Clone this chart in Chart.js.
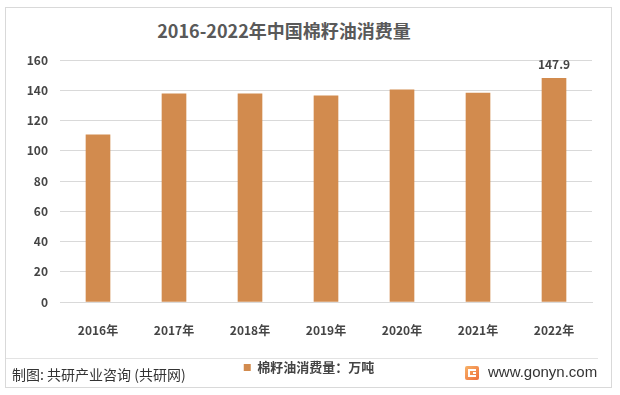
<!DOCTYPE html>
<html>
<head>
<meta charset="utf-8">
<script src="https://cdn.jsdelivr.net/npm/chart.js@4"></script>
<style>
  body { margin: 0; background: #fff; }
  #wrap { position: relative; width: 620px; height: 395px; font-family: "Noto Sans CJK SC", "Noto Sans", sans-serif; }
  #frame { position: absolute; left: 5px; top: 7px; width: 605px; height: 379px; border: 1px solid #d9d9d9; }
  #title { position: absolute; left: 84px; top: 20px; width: 400px; text-align: center; font-size: 18px; line-height: 20px; font-weight: bold; color: #595959; }
  #sep { position: absolute; left: 6px; top: 358px; width: 592px; height: 1px; background: #e3e3e3; }
  #source { position: absolute; left: 12px; top: 364px; font-size: 14px; line-height: 20px; color: #333; }
  #logo { position: absolute; left: 465px; top: 366px; width: 14px; height: 14px; border-radius: 2px; background: linear-gradient(135deg, #f7b267, #ef6f3c); }
  #logo i { position: absolute; background: #fff; }
  #site { position: absolute; left: 488px; top: 362px; font-family: "Liberation Sans", Arial, sans-serif; font-size: 15px; line-height: 20px; color: #333; }
  canvas { position: absolute; left: 0; top: 0; }
</style>
</head>
<body>
<div id="wrap">
  <div id="frame"></div>
  <div id="title">2016-2022年中国棉籽油消费量</div>
  <canvas id="chart" width="620" height="395"></canvas>
  <div id="sep"></div>
  <div id="source">制图: 共研产业咨询 (共研网)</div>
  <div id="logo"><i style="left:3px;top:3px;width:8px;height:2px"></i><i style="left:3px;top:3px;width:2px;height:8px"></i><i style="left:3px;top:9px;width:8px;height:2px"></i><i style="left:8px;top:6px;width:3px;height:2px"></i></div>
  <div id="site">www.gonyn.com</div>
</div>
<script>
const years = ["2016年", "2017年", "2018年", "2019年", "2020年", "2021年", "2022年"];
const consumption = [110.6, 137.6, 137.6, 136.3, 140.2, 138.2, 147.9];
const yTicks = [0, 20, 40, 60, 80, 100, 120, 140, 160];
const seriesName = "棉籽油消费量：万吨";
const labelledYears = ["2022年"];

const barColor = "#d28b4e";
const textColor = "#454545";
const gridColor = "#d9d9d9";

// value label above the selected bars
const valueLabels = {
  id: "valueLabels",
  afterDatasetsDraw(chart) {
    const ctx = chart.ctx;
    const meta = chart.getDatasetMeta(0);
    ctx.save();
    ctx.font = "bold 12px 'Noto Sans CJK SC', sans-serif";
    ctx.fillStyle = textColor;
    ctx.textAlign = "center";
    ctx.textBaseline = "middle";
    meta.data.forEach((bar, i) => {
      if (labelledYears.includes(years[i])) {
        ctx.fillText(consumption[i].toFixed(1), bar.x, bar.y - 14);
      }
    });
    ctx.restore();
  },
};

new Chart(document.getElementById("chart"), {
  type: "bar",
  data: {
    labels: years,
    datasets: [
      {
        label: seriesName,
        data: consumption,
        backgroundColor: barColor,
        barThickness: 24,
      },
    ],
  },
  options: {
    responsive: false,
    animation: false,
    layout: { padding: { left: 26, right: 28, top: 60, bottom: 11 } },
    plugins: {
      title: { display: false },
      tooltip: { enabled: false },
      legend: {
        position: "bottom",
        labels: {
          boxWidth: 7,
          boxHeight: 7,
          padding: 10,
          color: textColor,
          font: { size: 13, weight: "bold", family: "'Noto Sans CJK SC', sans-serif" },
        },
      },
    },
    scales: {
      x: {
        grid: { display: false },
        border: { color: gridColor },
        ticks: {
          color: textColor,
          padding: 13,
          font: { size: 12, weight: "bold", family: "'Noto Sans CJK SC', sans-serif" },
        },
        afterFit: (s) => { s.height = 49; },
      },
      y: {
        min: yTicks[0],
        max: yTicks[yTicks.length - 1],
        afterBuildTicks: (s) => { s.ticks = yTicks.map((v) => ({ value: v })); },
        grid: { color: gridColor, drawTicks: false },
        border: { display: false },
        ticks: {
          color: textColor,
          padding: 12,
          font: { size: 12, weight: "bold", family: "'Noto Sans CJK SC', sans-serif" },
        },
        afterFit: (s) => { s.width = 34; },
      },
    },
  },
  plugins: [valueLabels],
});
</script>
</body>
</html>
